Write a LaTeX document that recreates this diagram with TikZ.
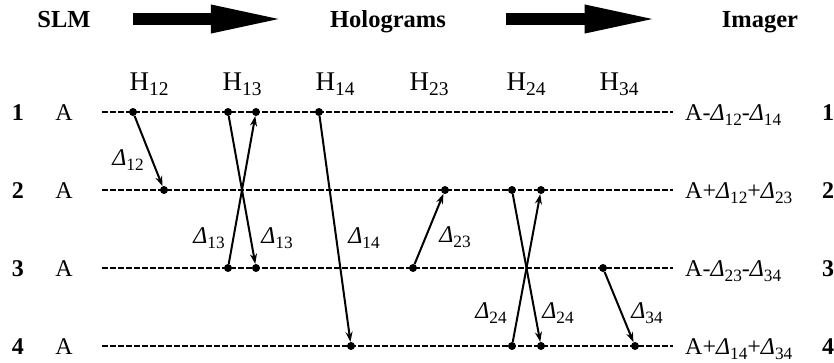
\documentclass[tikz,border=0pt]{standalone}
\usepackage{fontspec}
\setmainfont{Liberation Serif}
\usepackage{tikz}
\usetikzlibrary{arrows.meta}

\newcommand\lo[1]{\raisebox{-0.22em}{\scalebox{0.72}{#1}}}
\newcommand\dlt[1]{\textit{Δ}\lo{#1}}

\tikzset{
    txt/.style={inner sep=0pt, anchor=base},
    title/.style={txt, font=\fontsize{24.5}{29}\selectfont\bfseries},
    holo/.style={txt, font=\fontsize{27}{32}\selectfont},
    dot/.style={circle, fill, inner sep=0pt, minimum size=8pt},
    rowline/.style={line width=2pt, dash pattern=on 5.5pt off 2.5pt},
    swap arrow/.style={-{Stealth[length=10pt,width=7pt]}, line width=2pt},
    bigarrow/.style={line width=12pt, -{Triangle[length=76pt,width=25pt]}},
}

\begin{document}
\begin{tikzpicture}[x=1pt, y=-1pt, font=\fontsize{24}{28}\selectfont]
    \useasboundingbox (0,0) rectangle (834,362);

    % Titles
    \node[title] (slm) at (64,27) {SLM};
    \node[title] (hol) at (388,27) {Holograms};
    \node[title] (img) at (760,27) {Imager};
    \draw [bigarrow, shorten <=42pt, shorten >=43pt] (slm.east) -- (slm.east -| hol.west);
    \draw [bigarrow, shorten <=60pt, shorten >=61pt] (slm.east -| hol.east) -- (slm.east -| img.west);

    % Holograms
    \node[holo] (h12) at (149,90) {H\lo{12}};
    \node[holo] (h13) at (242,90) {H\lo{13}};
    \node[holo] (h14) at (335,90) {H\lo{14}};
    \node[holo] (h23) at (429,90) {H\lo{23}};
    \node[holo] (h24) at (526,90) {H\lo{24}};
    \node[holo] (h34) at (619,90) {H\lo{34}};

    % Rows
    \foreach \r/\y in {1/112,2/190,3/268,4/346} {
        \node[txt, font=\fontsize{24}{28}\selectfont\bfseries] (n\r) at (18,{\y+8}) {\r};
        \node[txt] (a\r) at (64,{\y+8}) {A};
        \coordinate (l\r) at (102,\y);
        \coordinate (r\r) at (673,\y);
        \draw [rowline] (l\r) -- (r\r);
        \node[txt, font=\fontsize{24}{28}\selectfont\bfseries] (m\r) at (828,{\y+8}) {\r};
    }
    \node[txt, anchor=base west] (out1) at (685,120) {A-\dlt{12}-\dlt{14}};
    \node[txt, anchor=base west] (out2) at (685,198) {A+\dlt{12}+\dlt{23}};
    \node[txt, anchor=base west] (out3) at (685,276) {A-\dlt{23}-\dlt{34}};
    \node[txt, anchor=base west] (out4) at (685,354) {A+\dlt{14}+\dlt{34}};

    % Exchanges
    \node[dot] (s12) at (133,112) {};
    \node[dot] (e12) at (164,190) {};
    \node[dot] (s13) at (228,112) {};
    \node[dot] (e13) at (256,268) {};
    \node[dot] (s31) at (228,268) {};
    \node[dot] (e31) at (256,112) {};
    \node[dot] (s14) at (319,112) {};
    \node[dot] (e14) at (351,346) {};
    \node[dot] (s32) at (413,268) {};
    \node[dot] (e32) at (445,190) {};
    \node[dot] (s24) at (512,190) {};
    \node[dot] (e24) at (541,346) {};
    \node[dot] (s42) at (512,346) {};
    \node[dot] (e42) at (541,190) {};
    \node[dot] (s34) at (603,268) {};
    \node[dot] (e34) at (635,346) {};

    \draw [swap arrow] (s12) -- (e12);
    \draw [swap arrow] (s13) -- (e13);
    \draw [swap arrow] (s31) -- (e31);
    \draw [swap arrow] (s14) -- (e14);
    \draw [swap arrow] (s32) -- (e32);
    \draw [swap arrow] (s24) -- (e24);
    \draw [swap arrow] (s42) -- (e42);
    \draw [swap arrow] (s34) -- (e34);

    \node[txt] (d12) at (128,165) {\dlt{12}};
    \node[txt] (d31) at (209,243) {\dlt{13}};
    \node[txt] (d13) at (277,243) {\dlt{13}};
    \node[txt] (d14) at (364,243) {\dlt{14}};
    \node[txt] (d32) at (455,242) {\dlt{23}};
    \node[txt] (d42) at (491,318) {\dlt{24}};
    \node[txt] (d24) at (558,318) {\dlt{24}};
    \node[txt] (d34) at (647,318) {\dlt{34}};
\end{tikzpicture}
\end{document}
